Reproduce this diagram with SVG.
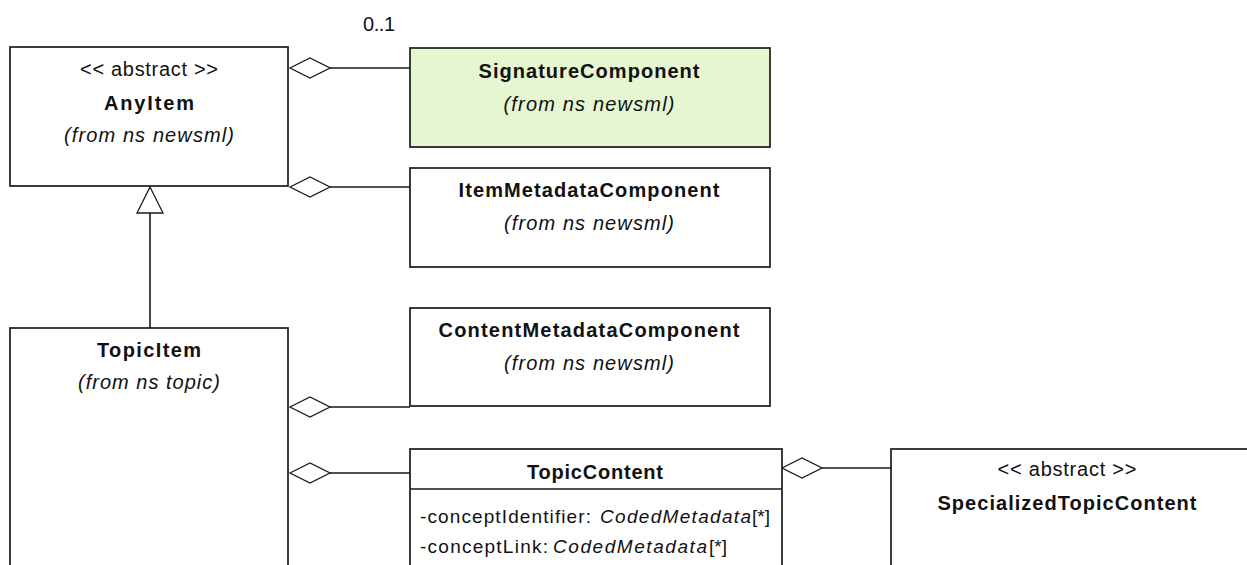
<svg xmlns="http://www.w3.org/2000/svg" width="1247" height="565" viewBox="0 0 1247 565">
<defs>
<style>
.box{fill:#fff;stroke:#1a1a1a;stroke-width:1.7}
.green{fill:#e6f6d0}
.ln{fill:none;stroke:#1a1a1a;stroke-width:1.6}
.dia{fill:#fff;stroke:#1a1a1a;stroke-width:1.3}
text{font-family:"Liberation Sans",Arial,sans-serif;fill:#111;font-size:20px}
.c{text-anchor:middle}
.b{font-weight:bold}
.i{font-style:italic}
.a{font-size:19px}
</style>
<polygon id="dm" class="dia" points="0,0 20,-10 40,0 20,10"/>
</defs>
<rect width="1247" height="565" fill="#fff"/>
<g id="connectors">
<line class="ln" x1="330" y1="68" x2="410" y2="68"/>
<use href="#dm" x="290" y="68"/>
<line class="ln" x1="330" y1="187" x2="410" y2="187"/>
<use href="#dm" x="290" y="187"/>
<line class="ln" x1="330" y1="407" x2="410" y2="407"/>
<use href="#dm" x="290" y="407"/>
<line class="ln" x1="330" y1="473" x2="410" y2="473"/>
<use href="#dm" x="290" y="473"/>
<line class="ln" x1="822" y1="468" x2="891" y2="468"/>
<use href="#dm" x="782" y="468"/>
<line class="ln" x1="150" y1="213" x2="150" y2="328"/>
<polygon class="dia" points="150,187 163,213 137,213"/>
<text x="379" y="31" class="c" textLength="32">0..1</text>
</g>
<g id="AnyItem">
<rect class="box" x="10" y="47" width="278" height="139"/>
<text x="149" y="76" class="c" textLength="138">&lt;&lt; abstract &gt;&gt;</text>
<text x="149" y="110" class="c b" textLength="90">AnyItem</text>
<text x="149" y="142" class="c i" textLength="170">(from ns newsml)</text>
</g>
<g id="SignatureComponent">
<rect class="box green" x="410" y="48" width="360" height="99"/>
<text x="589" y="78" class="c b" textLength="221">SignatureComponent</text>
<text x="589" y="111" class="c i" textLength="171">(from ns newsml)</text>
</g>
<g id="ItemMetadataComponent">
<rect class="box" x="410" y="168" width="360" height="99"/>
<text x="589" y="197" class="c b" textLength="261">ItemMetadataComponent</text>
<text x="589" y="230" class="c i" textLength="170">(from ns newsml)</text>
</g>
<g id="ContentMetadataComponent">
<rect class="box" x="410" y="308" width="360" height="98"/>
<text x="589" y="337" class="c b" textLength="301">ContentMetadataComponent</text>
<text x="589" y="370" class="c i" textLength="170">(from ns newsml)</text>
</g>
<g id="TopicItem">
<rect class="box" x="10" y="328" width="278" height="300"/>
<text x="149" y="357" class="c b" textLength="104">TopicItem</text>
<text x="149" y="389" class="c i" textLength="142">(from ns topic)</text>
</g>
<g id="TopicContent">
<rect class="box" x="410" y="449" width="372" height="180"/>
<line class="ln" x1="410" y1="489" x2="782" y2="489"/>
<text x="595" y="479" class="c b" textLength="136">TopicContent</text>
<text x="420" y="523" class="a" textLength="171">-conceptIdentifier:</text>
<text x="600" y="523" class="a i" textLength="151">CodedMetadata</text>
<text x="752" y="523" class="a" textLength="18">[*]</text>
<text x="420" y="553" class="a" textLength="128">-conceptLink:</text>
<text x="553" y="553" class="a i" textLength="154">CodedMetadata</text>
<text x="709" y="553" class="a" textLength="18">[*]</text>
</g>
<g id="SpecializedTopicContent">
<rect class="box" x="891" y="449" width="400" height="180"/>
<text x="1067" y="476" class="c" textLength="139">&lt;&lt; abstract &gt;&gt;</text>
<text x="1067" y="510" class="c b" textLength="259">SpecializedTopicContent</text>
</g>
</svg>
